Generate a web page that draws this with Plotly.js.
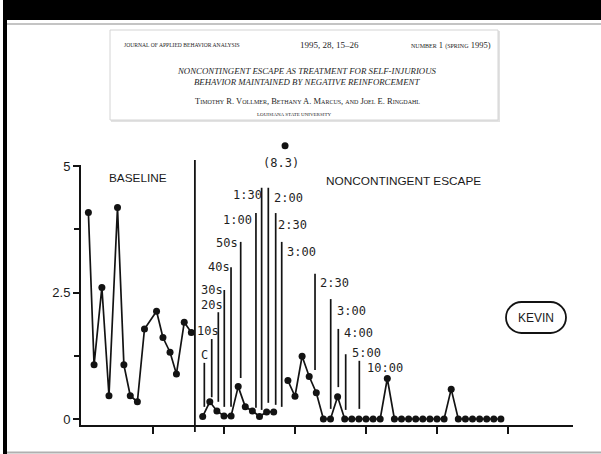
<!DOCTYPE html>
<html><head><meta charset="utf-8">
<script src="https://cdn.plot.ly/plotly-3.0.1.min.js"></script>
<style>html,body{margin:0;padding:0;background:#fff;}#chart{width:601px;height:454px;}</style>
</head><body><div id="chart"></div>
<script>
// ---------------- data ----------------
const baselineSessions = [0.9, 1.7, 2.8, 3.8, 5.0, 5.9, 6.8, 7.8, 8.8, 10.5, 11.4, 12.4, 13.3, 14.4, 15.4];
const baselineRate     = [4.08, 1.07, 2.6, 0.46, 4.18, 1.07, 0.46, 0.34, 1.78, 2.13, 1.61, 1.32, 0.89, 1.91, 1.71];

const nceSessions = [17,18,19,20,21,22,23,24,25,26,27,28,29,30,31,32,33,34,35,36,37,38,39,40,41,42,43,44,45,46,47,48,49,50,51,52,53,54,55,56,57,58,59];
const nceRate     = [0.05,0.34,0.16,0.06,0.06,0.64,0.24,0.16,0.05,0.14,0.14,null,0.76,0.45,1.24,0.84,0.52,0,0,0.44,0,0,0,0,0,0,0.80,0,0,0,0,0,0,0,0,0.59,0,0,0,0,0,0,0];

const offScaleSession = [28.6];
const offScaleValue   = [8.3];
const offScaleDrawnAt = [5.4];   // the off-scale point is drawn just above the axis top

const phaseChangeSession = 15.9;

const escapeLabels   = ['C','10s','20s','30s','40s','50s','1:00','1:30','2:00','2:30','3:00','2:30','3:00','4:00','5:00','10:00'];
const escapeSessions = [17.23,18.27,19.2,20.04,20.99,22.35,24.5,25.3,26.24,27.28,28.13,32.82,35.03,36.1,37.14,39.06];
const escapeTop      = [1.11,1.58,2.11,2.55,3.0,3.5,4.07,4.57,4.57,4.07,3.5,2.87,2.37,1.78,1.28,1.15];
const escapeBottom   = [0.24,0.43,0.34,0.24,0.24,0.81,0.22,0.18,0.32,0.28,0.24,0.97,0.20,0.63,0.18,0.20];
const escapeLabelSession = [16.62,16.06,16.62,16.62,17.61,18.73,19.72,21.13,26.9,27.46,28.73,33.42,35.77,36.8,37.89,40.0];
const escapeLabelRate    = [1.265,1.74,2.25,2.55,3.0,3.48,3.93,4.43,4.37,3.83,3.30,2.69,2.13,1.70,1.31,1.01];

const phaseLabels       = ['BASELINE','NONCONTINGENT ESCAPE'];
const phaseLabelSession = [7.9, 45.3];
const phaseLabelRate    = [4.76, 4.70];

const yTickValues = [0, 2.5, 5];
const yTickLabels = ['0', '2.5', '5'];
const yMinorTicks = [1.25, 3.75];
const xTickValues = [10, 20, 30, 40, 50, 60];

const participant = 'KEVIN';

const headerJournal = 'JOURNAL OF APPLIED BEHAVIOR ANALYSIS';
const headerIssue   = '1995, 28, 15–26';
const headerNumber  = '<span style="font-size:6px">NUMBER</span> 1 <span style="font-size:6px">(SPRING</span> 1995)';
const headerTitle1  = 'NONCONTINGENT ESCAPE AS TREATMENT FOR SELF-INJURIOUS';
const headerTitle2  = 'BEHAVIOR MAINTAINED BY NEGATIVE REINFORCEMENT';
const headerAuthors = 'Timothy R. Vollmer, Bethany A. Marcus, and Joel E. Ringdahl';
const headerUniv    = 'LOUISIANA STATE UNIVERSITY';

// ---------------- helpers (page decoration positions) ----------------
const W = 601, H = 454;
const px = v => v / W;
const py = v => (H - v) / H;
const INK = '#131313';

const traces = [
  { x: baselineSessions, y: baselineRate, type: 'scatter', mode: 'lines+markers',
    line: { color: INK, width: 1.7 }, marker: { color: INK, size: 7 }, hoverinfo: 'skip', cliponaxis: false },
  { x: nceSessions, y: nceRate, type: 'scatter', mode: 'lines+markers', connectgaps: false,
    line: { color: INK, width: 1.7 }, marker: { color: INK, size: 7 }, hoverinfo: 'skip', cliponaxis: false },
  // off-scale point on a taller, invisible twin of the same scale
  { x: offScaleSession, y: offScaleDrawnAt, xaxis: 'x2', yaxis: 'y2', type: 'scatter', mode: 'markers',
    marker: { color: INK, size: 7 }, hoverinfo: 'skip', cliponaxis: false }
];

// escape interval bars
const barX = [], barY = [];
escapeSessions.forEach((s, i) => { barX.push(s, s, null); barY.push(escapeBottom[i], escapeTop[i], null); });
traces.push({ x: barX, y: barY, type: 'scatter', mode: 'lines', line: { color: INK, width: 1.7 },
  hoverinfo: 'skip', cliponaxis: false });

const monoFont = { family: 'DejaVu Sans Mono, monospace', size: 12, color: '#1f1f1f' };
const sansFont = { family: 'Liberation Sans Narrow, Arial Narrow, Liberation Sans, Arial, sans-serif', size: 11.8, color: '#1a1a1a' };
const serif = 'Liberation Serif, Times New Roman, serif';

const annotations = [];
escapeLabels.forEach((t, i) => annotations.push({
  x: escapeLabelSession[i], y: escapeLabelRate[i], xref: 'x', yref: 'y', text: t, showarrow: false,
  xanchor: 'left', yanchor: 'middle', font: monoFont, borderpad: 0
}));
annotations.push({ x: offScaleSession[0], y: offScaleDrawnAt[0], xref: 'x2', yref: 'y2', text: '(' + offScaleValue[0] + ')',
  showarrow: false, xanchor: 'center', yanchor: 'middle', yshift: -17, xshift: -4, font: monoFont });
phaseLabels.forEach((t, i) => annotations.push({
  x: phaseLabelSession[i], y: phaseLabelRate[i], xref: 'x', yref: 'y', text: t, showarrow: false,
  xanchor: 'center', yanchor: 'middle', font: sansFont
}));
annotations.push({ x: px(536), y: py(317.5), xref: 'paper', yref: 'paper', text: participant, showarrow: false,
  xanchor: 'center', yanchor: 'middle', font: { family: 'Liberation Sans, Arial, sans-serif', size: 12, color: '#1a1a1a' } });

// header (journal article title box)
annotations.push(
  { x: px(122), y: py(45.5), xref: 'paper', yref: 'paper', text: headerJournal, showarrow: false, xanchor: 'left', yanchor: 'middle',
    font: { family: serif, size: 5.6, color: '#1e1e1e' } },
  { x: px(329), y: py(45), xref: 'paper', yref: 'paper', text: headerIssue, showarrow: false, xanchor: 'center', yanchor: 'middle',
    font: { family: serif, size: 9, color: '#1e1e1e' } },
  { x: px(493), y: py(45), xref: 'paper', yref: 'paper', text: headerNumber, showarrow: false, xanchor: 'right', yanchor: 'middle',
    font: { family: serif, size: 8.5, color: '#1e1e1e' } },
  { x: px(307), y: py(71), xref: 'paper', yref: 'paper', text: '<i>' + headerTitle1 + '</i>', showarrow: false, xanchor: 'center', yanchor: 'middle',
    font: { family: serif, size: 8.8, color: '#1e1e1e' } },
  { x: px(307), y: py(82), xref: 'paper', yref: 'paper', text: '<i>' + headerTitle2 + '</i>', showarrow: false, xanchor: 'center', yanchor: 'middle',
    font: { family: serif, size: 8.8, color: '#1e1e1e' } },
  { x: px(307), y: py(101), xref: 'paper', yref: 'paper', text: '<span style="font-variant:small-caps">' + headerAuthors + '</span>', showarrow: false,
    xanchor: 'center', yanchor: 'middle', font: { family: serif, size: 8.5, color: '#1e1e1e' } },
  { x: px(294), y: py(115), xref: 'paper', yref: 'paper', text: headerUniv, showarrow: false, xanchor: 'center', yanchor: 'middle',
    font: { family: serif, size: 5, color: '#1e1e1e' } }
);

const kevinPath = 'M -14.5,15.5 L 14.5,15.5 C 23.06,15.5 30,8.56 30,0 C 30,-8.56 23.06,-15.5 14.5,-15.5 L -14.5,-15.5 ' +
                  'C -23.06,-15.5 -30,-8.56 -30,0 C -30,8.56 -23.06,15.5 -14.5,15.5 Z';

const shapes = [
  // slide frame
  { type: 'rect', xref: 'paper', yref: 'paper', x0: px(3), x1: 1, y0: py(20), y1: 1, fillcolor: '#000', line: { width: 0 }, layer: 'below' },
  { type: 'rect', xref: 'paper', yref: 'paper', x0: px(3), x1: px(7), y0: 0, y1: 1, fillcolor: '#000', line: { width: 0 }, layer: 'below' },
  { type: 'line', xref: 'paper', yref: 'paper', x0: px(7), x1: 1, y0: py(24), y1: py(24), line: { color: '#c4c4c4', width: 2 }, layer: 'below' },
  { type: 'line', xref: 'paper', yref: 'paper', x0: px(7), x1: 1, y0: py(452.5), y1: py(452.5), line: { color: '#b0b0b0', width: 2 }, layer: 'below' },
  // header box with shadow
  { type: 'rect', xref: 'paper', yref: 'paper', x0: px(111), x1: px(500), y0: py(122), y1: py(31), fillcolor: '#e2e2e2', line: { width: 0 }, layer: 'below' },
  { type: 'rect', xref: 'paper', yref: 'paper', x0: px(110), x1: px(498), y0: py(120), y1: py(30), fillcolor: '#fff', line: { color: '#d4d4d4', width: 1 }, layer: 'below' },
  // phase change line
  { type: 'line', xref: 'x', yref: 'paper', x0: phaseChangeSession, x1: phaseChangeSession, y0: py(432), y1: py(160),
    line: { color: INK, width: 1.8 } },
  // participant oval
  { type: 'path', xref: 'paper', yref: 'paper', xsizemode: 'pixel', ysizemode: 'pixel', xanchor: px(536), yanchor: py(317.5),
    path: kevinPath, line: { color: INK, width: 1.8 }, fillcolor: 'rgba(0,0,0,0)' }
];

const layout = {
  width: W, height: H, margin: { l: 0, r: 0, t: 0, b: 0 }, showlegend: false,
  paper_bgcolor: '#fff', plot_bgcolor: 'rgba(0,0,0,0)',
  font: { family: 'Liberation Sans, Arial, sans-serif', color: '#1a1a1a' },
  xaxis: { domain: [81 / W, 573 / W], range: [-0.141, 69.155], showgrid: false, zeroline: false,
    showline: true, linecolor: INK, linewidth: 2, ticks: 'outside', tickvals: xTickValues, ticklen: 7, tickwidth: 2,
    tickcolor: INK, showticklabels: false, fixedrange: true },
  yaxis: { domain: [(H - 425) / H, (H - 165) / H], range: [-0.1186, 5.0198], showgrid: false, zeroline: false,
    showline: true, linecolor: INK, linewidth: 2, ticks: 'outside', tickvals: yTickValues, ticktext: yTickLabels,
    ticklen: 6, tickwidth: 2, tickcolor: INK, tickfont: { size: 13, color: '#1a1a1a' }, fixedrange: true,
    minor: { tickvals: yMinorTicks, ticks: 'outside', ticklen: 5, tickwidth: 2, tickcolor: INK } },
  // invisible twin axes with identical scale, extended upward for the off-scale point
  xaxis2: { domain: [81 / W, 573 / W], range: [-0.141, 69.155], anchor: 'y2', visible: false, fixedrange: true },
  yaxis2: { domain: [(H - 425) / H, (H - 130) / H], range: [-0.1186, 5.7115], anchor: 'x2', visible: false, fixedrange: true },
  shapes: shapes, annotations: annotations
};

Plotly.newPlot('chart', traces, layout, { staticPlot: true, displayModeBar: false });
</script></body></html>
